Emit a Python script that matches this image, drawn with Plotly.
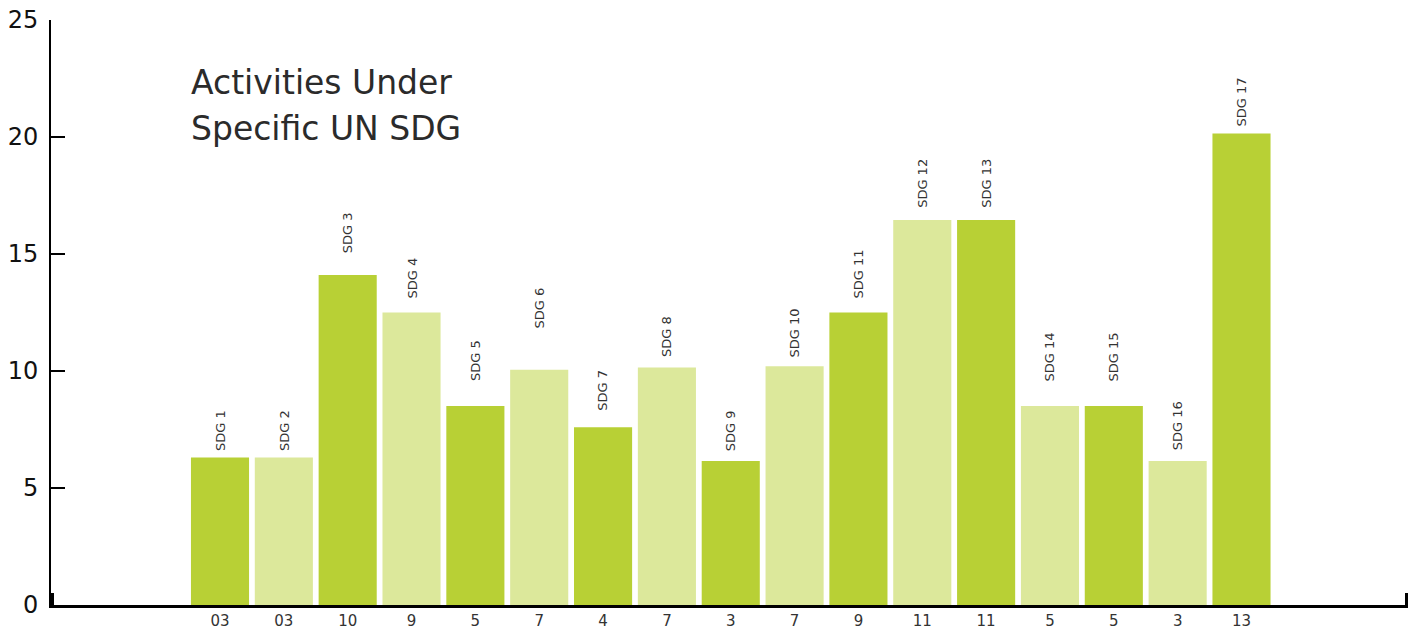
import plotly.graph_objects as go

# ---- data ----
sdg_labels = ["SDG 1", "SDG 2", "SDG 3", "SDG 4", "SDG 5", "SDG 6", "SDG 7", "SDG 8", "SDG 9",
              "SDG 10", "SDG 11", "SDG 12", "SDG 13", "SDG 14", "SDG 15", "SDG 16", "SDG 17"]
values = [6.3, 6.3, 14.1, 12.5, 8.5, 10.05, 7.6, 10.15, 6.15, 10.2, 12.5, 16.45, 16.45, 8.5, 8.5, 6.15, 20.15]
counts = ["03", "03", "10", "9", "5", "7", "4", "7", "3", "7", "9", "11", "11", "5", "5", "3", "13"]
y_ticks = [0, 5, 10, 15, 20, 25]
title_lines = ["Activities Under", "Specific UN SDG"]

# ---- styles ----
DARK = "#B8D035"
LIGHT = "#DCE89B"
colors = [DARK if i % 2 == 0 else LIGHT for i in range(len(values))]
label_gap_px = [5, 5, 20, 12, 23, 39, 14, 9, 8, 7, 12, 10, 10, 23, 23, 9, 5]
FONT = "DejaVu Sans, sans-serif"

idx = list(range(len(values)))

fig = go.Figure()
fig.add_trace(go.Bar(
    x=idx, y=values, marker=dict(color=colors, line=dict(width=0)),
    hoverinfo="skip", showlegend=False,
))

# invisible trace on secondary x-axis to draw end brackets
fig.add_trace(go.Scatter(x=[0, 1], y=[0, 0], xaxis="x2", mode="markers",
                         marker=dict(opacity=0), hoverinfo="skip", showlegend=False))

for i, (lab, v) in enumerate(zip(sdg_labels, values)):
    fig.add_annotation(
        x=i, y=v, xref="x", yref="y", text=lab, textangle=-90,
        showarrow=False, yanchor="bottom", xanchor="center",
        yshift=label_gap_px[i],
        font=dict(family=FONT, size=13, color="#333333"),
    )

for line, ypos in zip(title_lines, [0.893, 0.814]):
    fig.add_annotation(
        x=0.1015, y=ypos, xref="paper", yref="paper", xanchor="left", yanchor="middle",
        text=line, showarrow=False, align="left",
        font=dict(family=FONT, size=33, color="#2b2b2b"),
    )

fig.update_layout(
    width=1415, height=624,
    margin=dict(l=43, r=15, t=12, b=27, autoexpand=False),
    paper_bgcolor="white", plot_bgcolor="white",
    bargap=0.09,
    font=dict(family=FONT),
    xaxis=dict(
        range=[-2.647, 18.608], tickmode="array", tickvals=idx, ticktext=counts,
        showgrid=False, zeroline=False, showline=True, linecolor="#000000", linewidth=3,
        ticks="", tickfont=dict(family=FONT, size=15, color="#333333"), automargin=False,
        ticklabeloverflow="allow",
    ),
    xaxis2=dict(
        overlaying="x", range=[0, 1], tickmode="array", tickvals=[0.001, 0.999],
        ticks="inside", ticklen=12, tickwidth=3, tickcolor="#000000",
        showticklabels=False, showgrid=False, zeroline=False, showline=False,
        side="bottom", anchor="y", automargin=False,
    ),
    yaxis=dict(
        range=[0, 25], tickmode="array", tickvals=y_ticks,
        showgrid=False, zeroline=False, showline=True, linecolor="#000000", linewidth=2,
        ticks="inside", ticklen=14, tickwidth=2, tickcolor="#000000",
        tickfont=dict(family=FONT, size=24, color="#111111"),
        ticklabelstandoff=6, automargin=False, ticklabeloverflow="allow",
    ),
)

fig.write_html("out.html")
